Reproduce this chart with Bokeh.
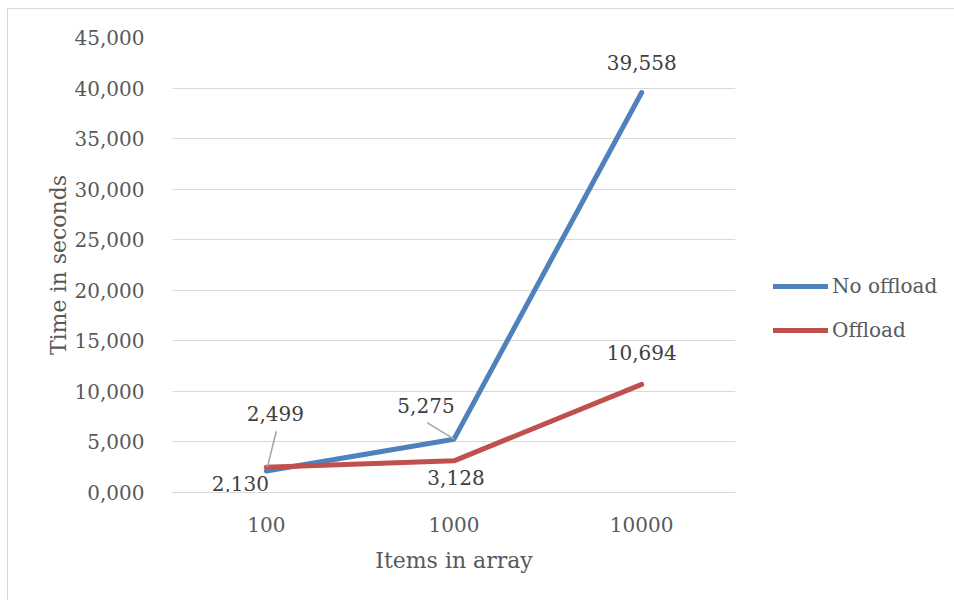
from bokeh.plotting import figure
from bokeh.layouts import row
from bokeh.models import (ColumnDataSource, Range1d, FactorRange, Legend, LegendItem,
                          FixedTicker, CustomJSTickFormatter)
from bokeh.core.properties import value
from bokeh.embed import file_html
from bokeh.resources import INLINE

# ---- data ----
categories = ["100", "1000", "10000"]
no_offload = [2.130, 5.275, 39.558]
offload = [2.499, 3.128, 10.694]
y_ticks = [0, 5, 10, 15, 20, 25, 30, 35, 40, 45]
series_names = ["No offload", "Offload"]

FONT = "DejaVu Serif"
GRAY = "#595959"
DARK = "#404040"
BLUE = "#4f81bd"
RED = "#c0504d"

def fmt(v):
    return f"{v:.3f}".replace(".", ",")

p = figure(width=757, height=591, output_backend="svg", toolbar_location=None,
           x_range=FactorRange(*categories, range_padding=0), y_range=Range1d(0, 45))
p.min_border_left = 164
p.min_border_right = 30
p.min_border_top = 28
p.min_border_bottom = 108
p.outline_line_color = None
p.background_fill_color = "white"
p.border_fill_color = "white"

# axes
p.yaxis.ticker = FixedTicker(ticks=y_ticks)
p.yaxis.formatter = CustomJSTickFormatter(code="return tick.toFixed(3).replace('.', ',');")
for ax in (p.xaxis[0], p.yaxis[0]):
    ax.major_label_text_font = FONT
    ax.major_label_text_font_size = "20px"
    ax.major_label_text_color = GRAY
    ax.axis_label_text_font = FONT
    ax.axis_label_text_font_size = "22px"
    ax.axis_label_text_color = GRAY
    ax.axis_label_text_font_style = "normal"
    ax.major_tick_line_color = None
    ax.minor_tick_line_color = None
p.yaxis.axis_line_color = None
p.xaxis.axis_line_color = "#d9d9d9"
p.yaxis.axis_label = "Time in seconds"
p.xaxis.axis_label = "Items in array"
p.yaxis.major_label_standoff = 22
p.yaxis.axis_label_standoff = 1
p.xaxis.major_label_standoff = 18
p.xaxis.axis_label_standoff = 13

p.xgrid.grid_line_color = None
p.ygrid.grid_line_color = "#d9d9d9"
p.ygrid.grid_line_width = 1

# lines
p.line(categories, no_offload, line_color=BLUE, line_width=5, line_cap="round", line_join="round")
p.line(categories, offload, line_color=RED, line_width=5, line_cap="round", line_join="round")

# leader lines (offsets in category units / data units from the point)
px_per_unit = 455 / 45.0
lead = ColumnDataSource(dict(
    x0=[("100", 10 / 188), ("1000", -27 / 188)],
    y0=[offload[0] + 36 / px_per_unit, no_offload[1] + 16.5 / px_per_unit],
    x1=[("100", 1 / 188), ("1000", 0.0)],
    y1=[offload[0], no_offload[1]],
))
p.segment(x0="x0", y0="y0", x1="x1", y1="y1", source=lead, line_color="#a6a6a6", line_width=1.5)

# data labels
lab = ColumnDataSource(dict(
    x=categories + categories,
    y=no_offload + offload,
    text=[fmt(v) for v in no_offload + offload],
    dx=[-26, -28, 0, 9, 2, 0],
    dy=[12.5, -34, -30, -54, 17, -32],
))
p.text(x="x", y="y", text="text", source=lab, x_offset="dx", y_offset="dy",
       text_font=value(FONT), text_font_size="20px", text_color=DARK,
       text_align="center", text_baseline="middle")

# legend panel (separate figure to the right of the plot)
p2 = figure(width=189, height=591, output_backend="svg", toolbar_location=None,
            x_axis_location=None, y_axis_location=None,
            x_range=Range1d(0, 1), y_range=Range1d(0, 1))
p2.min_border = 0
p2.outline_line_color = None
p2.grid.visible = False
p2.border_fill_color = "white"
# legend sample renderers (their data lies outside the visible range)
lb = p2.line([5, 6], [5, 6], line_color=BLUE, line_width=5, line_cap="round")
lr = p2.line([5, 6], [5, 6], line_color=RED, line_width=5, line_cap="round")

legend = Legend(items=[LegendItem(label=series_names[0], renderers=[lb]),
                       LegendItem(label=series_names[1], renderers=[lr])],
                location=(8, 150), orientation="vertical")
legend.label_text_font = FONT
legend.label_text_font_size = "20px"
legend.label_text_color = GRAY
legend.glyph_width = 55
legend.glyph_height = 24
legend.label_height = 24
legend.spacing = 20
legend.label_standoff = 4
legend.padding = 0
legend.margin = 0
legend.border_line_color = None
legend.background_fill_alpha = 0
p2.add_layout(legend, "center")

layout = row(p, p2)
layout.styles = {"outline": "1px solid #d9d9d9", "margin-left": "8px", "margin-top": "9px"}

open("out.html", "w").write(file_html(layout, INLINE))
